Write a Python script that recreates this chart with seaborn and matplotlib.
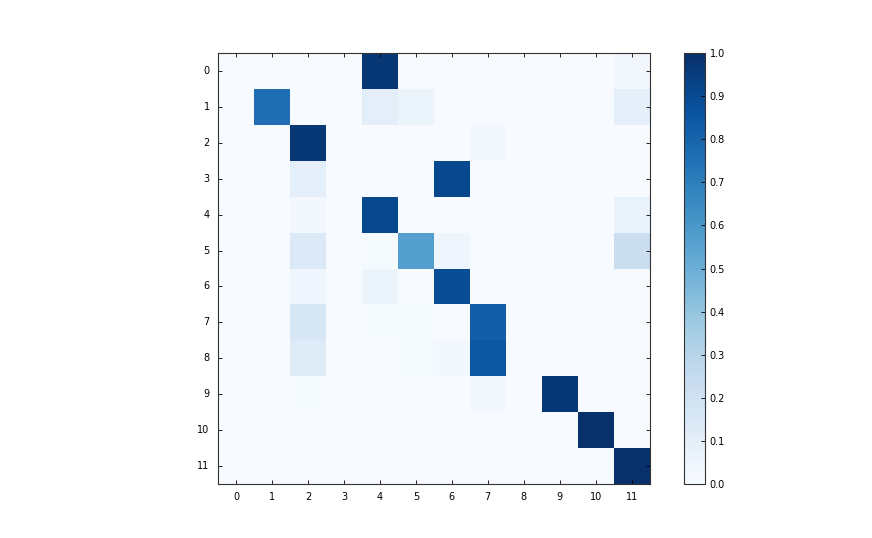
import numpy as np
import pandas as pd
import seaborn as sns
import matplotlib
matplotlib.use("Agg")
import matplotlib.pyplot as plt

labels = [str(i) for i in range(12)]

# normalised confusion matrix, one row per true class
row0 = [0, 0, 0, 0, 0.97, 0, 0, 0, 0, 0, 0, 0.03]
row1 = [0, 0.76, 0, 0, 0.10, 0.06, 0, 0, 0, 0, 0, 0.09]
row2 = [0, 0, 0.97, 0, 0, 0, 0, 0.03, 0, 0, 0, 0]
row3 = [0, 0, 0.09, 0, 0, 0, 0.91, 0, 0, 0, 0, 0]
row4 = [0, 0, 0.02, 0, 0.91, 0, 0, 0, 0, 0, 0, 0.07]
row5 = [0, 0, 0.14, 0, 0.01, 0.57, 0.05, 0, 0, 0, 0, 0.23]
row6 = [0, 0, 0.05, 0, 0.06, 0, 0.89, 0, 0, 0, 0, 0]
row7 = [0, 0, 0.16, 0, 0.01, 0.01, 0, 0.82, 0, 0, 0, 0]
row8 = [0, 0, 0.12, 0, 0, 0.01, 0.02, 0.85, 0, 0, 0, 0]
row9 = [0, 0, 0.01, 0, 0, 0, 0, 0.02, 0, 0.97, 0, 0]
row10 = [0, 0, 0, 0, 0, 0, 0, 0, 0, 0, 1.0, 0]
row11 = [0, 0, 0, 0, 0, 0, 0, 0, 0, 0, 0, 1.0]

cm = pd.DataFrame([row0, row1, row2, row3, row4, row5, row6,
                   row7, row8, row9, row10, row11],
                  index=labels, columns=labels)

plt.rcParams['font.family'] = ['DejaVu Sans']
plt.rcParams['font.size'] = 7

fig = plt.figure(figsize=(8.72, 5.38), dpi=100)
ax = fig.add_axes([0.25, 0.1004, 0.495, 0.801])
cax = fig.add_axes([0.7845, 0.1004, 0.024, 0.801])

sns.heatmap(cm, ax=ax, cbar_ax=cax, cmap="Blues", vmin=0, vmax=1,
            cbar_kws={"ticks": np.arange(0, 1.01, 0.1)})

ax.set_yticklabels(labels, rotation=0)
ax.set_xticklabels(labels, rotation=0)
ax.tick_params(direction="in", length=3, width=0.6, top=True, right=True,
               labelsize=7, pad=6)
for s in ax.spines.values():
    s.set_visible(True)
    s.set_linewidth(0.8)
    s.set_color("#333333")

cax.set_yticklabels(["%.1f" % t for t in np.arange(0, 1.01, 0.1)])
cax.tick_params(labelsize=7, length=3, width=0.6, direction="in")
cb = ax.collections[0].colorbar
cb.outline.set_visible(True)
cb.outline.set_linewidth(0.8)
cb.outline.set_edgecolor("#333333")

fig.savefig("out.png", dpi=100)
